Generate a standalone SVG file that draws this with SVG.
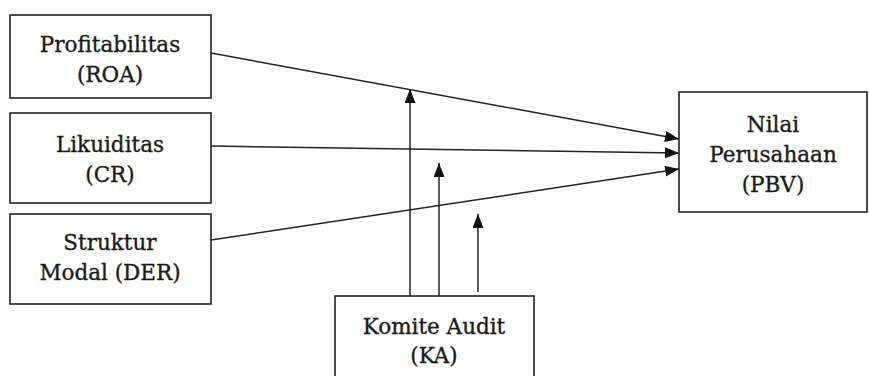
<svg xmlns="http://www.w3.org/2000/svg" width="869" height="376" viewBox="0 0 869 376">
<style>
.box{fill:#fff;stroke:#222;stroke-width:1.6}
.lbl{font-family:"DejaVu Serif","Liberation Serif",serif;font-size:21.5px;fill:#1a1a1a;stroke:#1a1a1a;stroke-width:0.35;text-anchor:middle}
.conn{stroke:#222;stroke-width:1.5;fill:none;marker-end:url(#ah)}
</style>
<defs>
<marker id="ah" markerUnits="userSpaceOnUse" markerWidth="15" markerHeight="12" refX="14" refY="5.5" orient="auto">
<path d="M0,0 L14,5.5 L0,11 Z" fill="#111"/>
</marker>
</defs>
<rect width="869" height="376" fill="#fff"/>
<g id="n-roa">
<rect class="box" x="10" y="15" width="201" height="83"/>
<text class="lbl" x="110" y="52">Profitabilitas</text>
<text class="lbl" x="110" y="82">(ROA)</text>
</g>
<g id="n-cr">
<rect class="box" x="10" y="113" width="201" height="90"/>
<text class="lbl" x="110" y="152">Likuiditas</text>
<text class="lbl" x="110" y="182">(CR)</text>
</g>
<g id="n-der">
<rect class="box" x="10" y="214" width="201" height="90"/>
<text class="lbl" x="110" y="250">Struktur</text>
<text class="lbl" x="110" y="280">Modal (DER)</text>
</g>
<g id="n-pbv">
<rect class="box" x="679" y="92" width="188" height="120"/>
<text class="lbl" x="773" y="132">Nilai</text>
<text class="lbl" x="773" y="162">Perusahaan</text>
<text class="lbl" x="773" y="192">(PBV)</text>
</g>
<g id="n-ka">
<rect class="box" x="335" y="296" width="199" height="90"/>
<text class="lbl" x="434" y="334">Komite Audit</text>
<text class="lbl" x="434" y="363">(KA)</text>
</g>
<g id="connectors">
<line class="conn" x1="211" y1="53" x2="679" y2="139"/>
<line class="conn" x1="211" y1="146" x2="679" y2="153"/>
<line class="conn" x1="211" y1="240" x2="679" y2="169"/>
<line class="conn" x1="410" y1="296" x2="410" y2="89"/>
<line class="conn" x1="439" y1="296" x2="439" y2="163"/>
<line class="conn" x1="478" y1="292" x2="478" y2="214"/>
</g>
</svg>
